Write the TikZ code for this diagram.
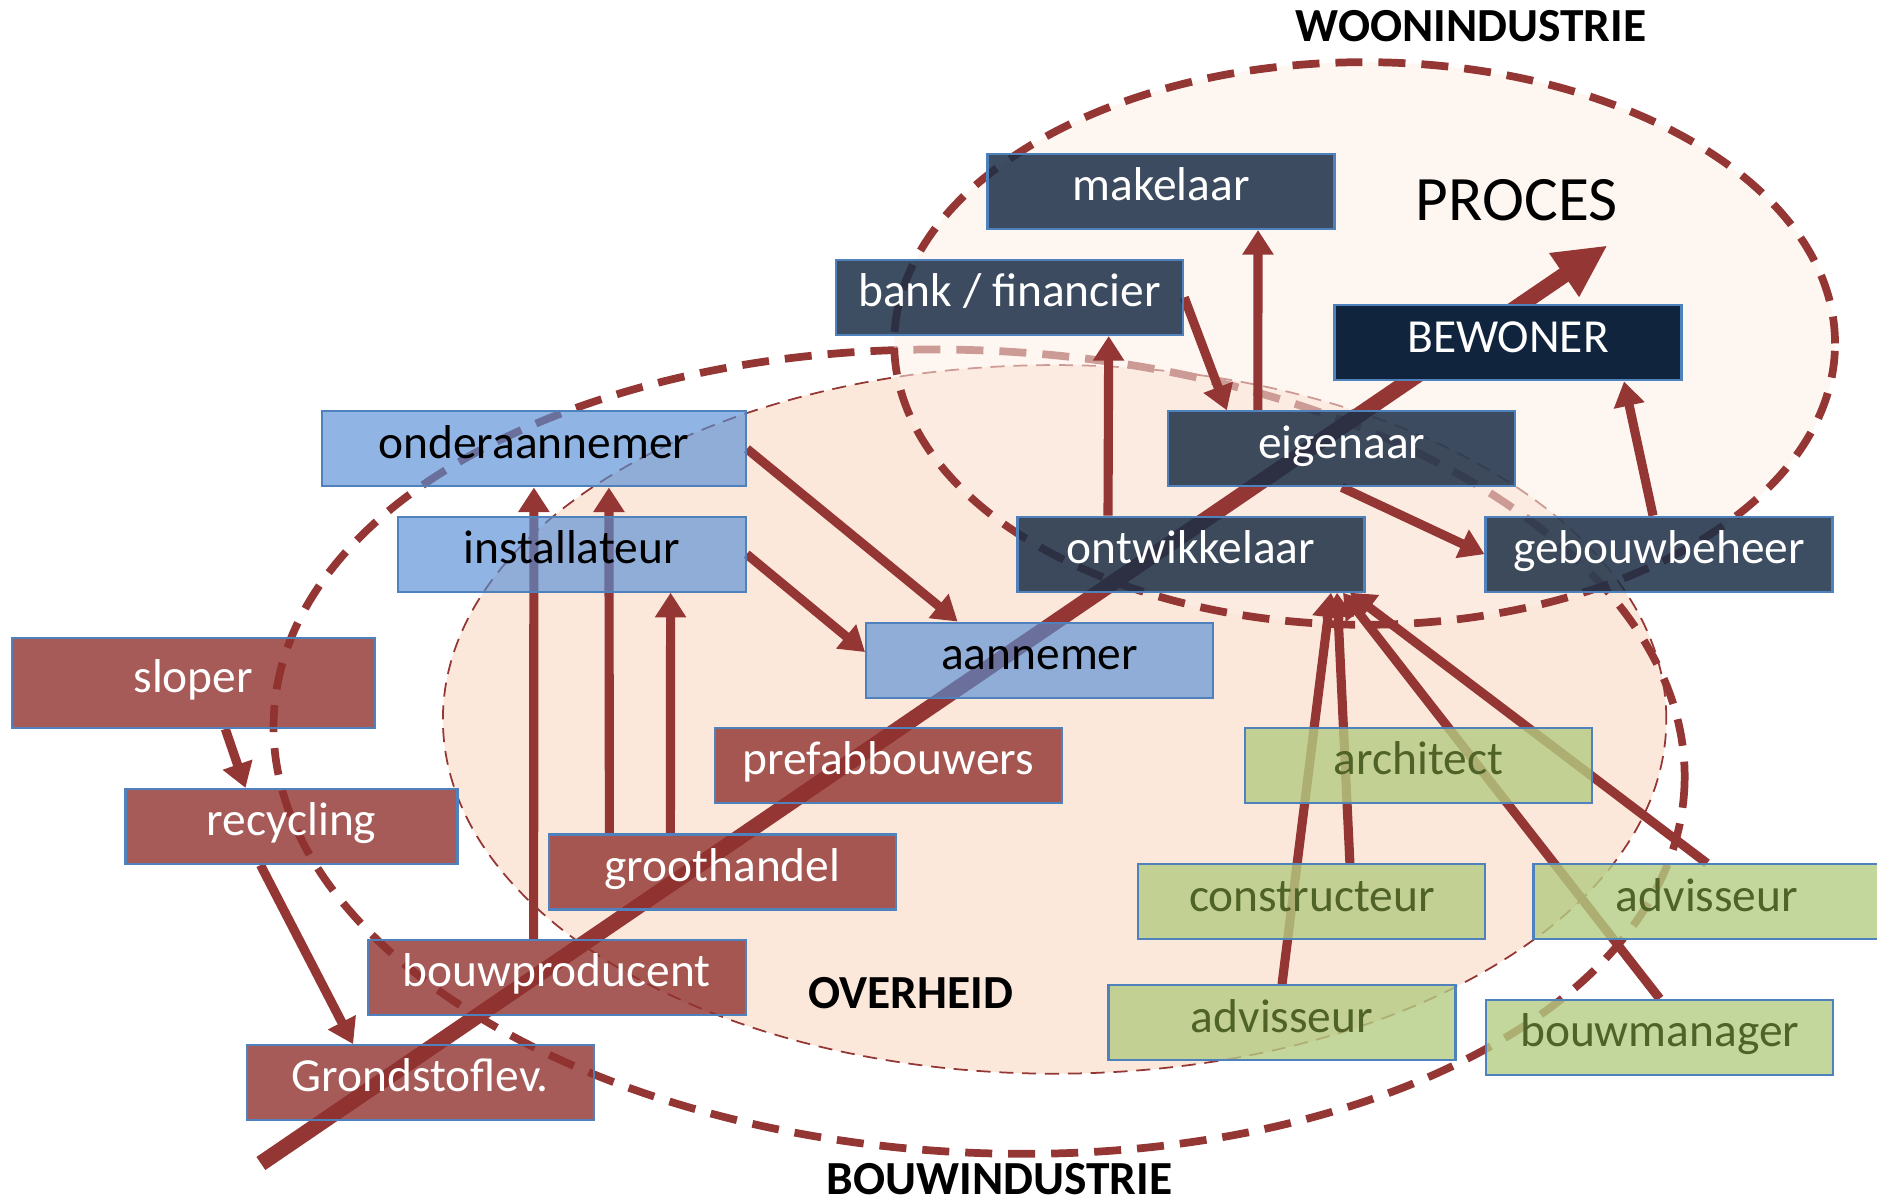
\documentclass[tikz,border=0pt]{standalone}
\usepackage{fontspec}
\setmainfont{Carlito}
\usetikzlibrary{arrows.meta}
\definecolor{pijlrood}{HTML}{943634}
\definecolor{leisteen}{HTML}{1B2E46}
\definecolor{marine}{HTML}{10243E}
\definecolor{lichtblauw}{HTML}{558ED5}
\definecolor{baksteen}{HTML}{90322E}
\definecolor{lichtgroen}{HTML}{B4CC82}
\definecolor{donkergroen}{HTML}{4F6228}
\definecolor{rand}{HTML}{4F81BD}
\definecolor{perzik}{HTML}{FCE8DA}
\definecolor{woonvul}{HTML}{FDEEE6}
\pgfdeclarelayer{bg}
\pgfdeclarelayer{mid}
\pgfsetlayers{bg,mid,main}

\begin{document}
\begin{tikzpicture}[
  box/.style={rectangle, draw=rand, line width=0.6pt, minimum width=3.47cm, minimum height=0.75cm,
    text opacity=1, font=\fontsize{13.5}{16}\selectfont, text height=1.55ex, text depth=0.45ex},
  procbox/.style={box, fill=leisteen, fill opacity=0.85, text=white},
  subbox/.style={box, fill=lichtblauw, fill opacity=0.65, text=black},
  levbox/.style={box, fill=baksteen, fill opacity=0.8, text=white},
  advbox/.style={box, fill=lichtgroen, fill opacity=0.8, text=donkergroen},
  kop/.style={font=\fontsize{13.5}{16}\selectfont\bfseries},
  pijl/.style={pijlrood, line width=2.6pt, -{Triangle[length=7pt, width=8.5pt]}},
  kring/.style={draw=pijlrood, line width=2.2pt, dash pattern=on 0.27cm off 0.16cm}
]
  \useasboundingbox (0,0) rectangle (18.77,12.02);
  % Nodes
  \node (mak) [procbox] at (11.61, 10.105) {makelaar};
  \node (bank) [procbox] at (10.097, 9.045) {bank / financier};
  \node (bew) [procbox, fill=marine, fill opacity=1] at (15.08, 8.591) {BEWONER};
  \node (onder) [subbox, minimum width=4.24cm] at (5.339, 7.531) {onderaannemer};
  \node (eig) [procbox] at (13.418, 7.531) {eigenaar};
  \node (inst) [subbox, minimum width=3.48cm] at (5.716, 6.478) {installateur};
  \node (ontw) [procbox] at (11.91, 6.478) {ontwikkelaar};
  \node (gebouw) [procbox] at (16.59, 6.478) {gebouwbeheer};
  \node (aan) [subbox] at (10.396, 5.419) {aannemer};
  \node (slop) [levbox, minimum width=3.63cm, minimum height=0.9cm] at (1.933, 5.191) {sloper};
  \node (prefab) [levbox] at (8.882, 4.365) {prefabbouwers};
  \node (arch) [advbox] at (14.184, 4.365) {architect};
  \node (recyc) [levbox, minimum width=3.32cm] at (2.915, 3.755) {recycling};
  \node (groot) [levbox] at (7.224, 3.30) {groothandel};
  \node (constr) [advbox] at (13.119, 3.001) {constructeur};
  \node (advr) [advbox] at (17.07, 3.001) {advisseur};
  \node (prod) [levbox, minimum width=3.78cm] at (5.566, 2.246) {bouwproducent};
  \node (advl) [advbox] at (12.82, 1.792) {advisseur};
  \node (bman) [advbox] at (16.597, 1.648) {bouwmanager};
  \node (grond) [levbox] at (4.201, 1.193) {Grondstoflev.};
  % Headers
  \node (woon) [kop] at (14.711, 11.757) {WOONINDUSTRIE};
  \node (proces) [font=\fontsize{18}{22}\selectfont] at (15.166, 10.021) {PROCES};
  \node (overheid) [kop] at (9.109, 2.085) {OVERHEID};
  \node (bouw) [kop] at (9.995, 0.23) {BOUWINDUSTRIE};
  % Areas
  \begin{pgfonlayer}{bg}
    \draw[fill=perzik, draw=pijlrood, line width=0.5pt, dash pattern=on 4pt off 2.5pt]
      (10.546, 4.826) ellipse [x radius=6.117, y radius=3.543];
    \draw[kring, rotate around={-3:(9.791, 4.503)}]
      (9.791, 4.503) ellipse [x radius=7.062, y radius=4.01];
    \draw[kring, fill=woonvul, fill opacity=0.55]
      (13.646, 8.585) ellipse [x radius=4.704, y radius=2.813];
  \end{pgfonlayer}
  % Arrows
  \begin{pgfonlayer}{mid}
    \coordinate (start) at (2.609, 0.385);
    \coordinate (doel) at (16.076, 9.566);
    \draw[pijlrood, line width=4.5pt, -{Triangle[length=15pt, width=14pt]}] (start) -- (doel);
    \draw[pijl] ([xshift=0.32cm]slop.south) -- ([xshift=-0.46cm]recyc.north);
    \draw[pijl] ([xshift=-0.31cm]recyc.south) -- ([xshift=-0.67cm]grond.north);
    \draw[pijl] ([xshift=-0.23cm]prod.north) -- (onder.south);
    \draw[pijl] ([xshift=-1.13cm]groot.north) -- ([xshift=0.75cm]onder.south);
    \draw[pijl] ([xshift=-0.52cm]groot.north) -- ([xshift=0.99cm]inst.south);
    \draw[pijl] (inst.east) -- ([yshift=0.08cm]aan.west);
    \draw[pijl] (onder.east) -- ([xshift=-0.82cm]aan.north);
    \draw[pijl] ([xshift=-0.83cm]ontw.north) -- ([xshift=0.99cm]bank.south);
    \draw[pijl] (bank.east) -- ([xshift=-1.15cm]eig.north);
    \draw[pijl] ([xshift=-0.84cm]eig.north) -- ([xshift=0.97cm]mak.south);
    \draw[pijl] (eig.south) -- (gebouw.west);
    \draw[pijl] ([xshift=-0.06cm]gebouw.north) -- ([xshift=1.16cm]bew.south);
    \draw[pijl] (advl.north) -- ([xshift=1.40cm]ontw.south);
    \draw[pijl] ([xshift=0.38cm]constr.north) -- ([xshift=1.46cm]ontw.south);
    \draw[pijl] (bman.north) -- ([xshift=1.52cm]ontw.south);
    \draw[pijl] (advr.north) -- ([xshift=1.59cm]ontw.south);
  \end{pgfonlayer}
\end{tikzpicture}
\end{document}
